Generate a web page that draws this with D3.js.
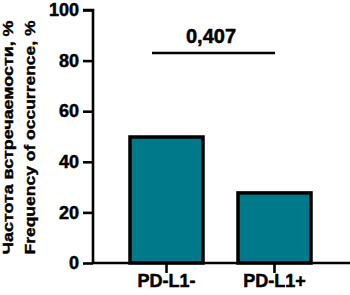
<!DOCTYPE html>
<html>
<head>
<meta charset="utf-8">
<script src="https://cdn.jsdelivr.net/npm/d3@7"></script>
<style>
  body { margin: 0; background: #fff; }
  svg { display: block; font-family: "Liberation Sans", Arial, sans-serif; font-weight: bold; }
</style>
</head>
<body>
<div id="chart"></div>
<script>
(() => {
  const width = 350, height = 295;

  // data
  const groups = ["PD-L1-", "PD-L1+"];
  const values = [49.8, 27.7];
  const yTicks = [0, 20, 40, 60, 80, 100];
  const pLabel = "0,407";
  const yTitle = ["Частота встречаемости, %", "Frequency of occurrence, %"];

  const margin = { left: 93, right: 0, top: 10, bottom: 32 };
  const font = "Liberation Sans, Arial, sans-serif";

  const svg = d3.select("#chart").append("svg")
    .attr("width", width)
    .attr("height", height);

  const y = d3.scaleLinear()
    .domain([0, 100])
    .range([height - margin.bottom, margin.top]);

  const x = d3.scaleBand()
    .domain(groups)
    .range([97.6, 343.4])
    .paddingInner(0.324)
    .paddingOuter(0.3);

  function styleText(sel, size) {
    sel.attr("font-size", size)
      .attr("font-weight", "bold")
      .attr("font-family", font)
      .attr("fill", "#000")
      .attr("stroke", "#000")
      .attr("stroke-width", 0.5);
  }

  // y axis
  const yAxis = svg.append("g")
    .attr("transform", `translate(${margin.left},0)`)
    .call(d3.axisLeft(y).tickValues(yTicks).tickSize(10).tickPadding(4));
  yAxis.select(".domain").attr("stroke-width", 2.6).attr("d", `M-10,${y(100)}H0V${y(0)}`);
  yAxis.selectAll(".tick line").attr("stroke-width", 2.6);
  yAxis.selectAll(".tick text").call(styleText, 18);

  // bars
  svg.selectAll("rect.bar")
    .data(groups)
    .join("rect")
    .attr("class", "bar")
    .attr("x", d => x(d))
    .attr("width", x.bandwidth())
    .attr("y", (d, i) => y(values[i]))
    .attr("height", (d, i) => y(0) - y(values[i]))
    .attr("fill", "#007a8b")
    .attr("stroke", "#000")
    .attr("stroke-width", 3.5);

  // x axis
  const xAxis = svg.append("g")
    .attr("transform", `translate(0,${y(0)})`)
    .call(d3.axisBottom(x).tickSize(10).tickPadding(1));
  xAxis.select(".domain").attr("stroke-width", 2.6).attr("d", `M${margin.left},0H${width}`);
  xAxis.selectAll(".tick line").attr("stroke-width", 2.6);
  xAxis.selectAll(".tick text").call(styleText, 18);

  // significance bracket
  const x1 = x(groups[0]) + x.bandwidth() / 2 - 14.5;
  const x2 = x(groups[1]) + x.bandwidth() / 2 + 0.5;
  svg.append("line")
    .attr("x1", x1).attr("x2", x2)
    .attr("y1", 53).attr("y2", 53)
    .attr("stroke", "#000")
    .attr("stroke-width", 2.6);
  svg.append("text")
    .attr("x", 211)
    .attr("y", 43)
    .attr("text-anchor", "middle")
    .call(styleText, 20)
    .text(pLabel);

  // y title
  const cy = 137.5;
  svg.selectAll("text.ytitle")
    .data(yTitle)
    .join("text")
    .attr("class", "ytitle")
    .attr("transform", (d, i) => `translate(${12.5 + i * 22.5},${cy}) rotate(-90)`)
    .attr("text-anchor", "middle")
    .attr("textLength", 234)
    .attr("lengthAdjust", "spacingAndGlyphs")
    .call(styleText, 15)
    .attr("stroke-width", 0.4)
    .text(d => d);
})();
</script>
</body>
</html>
